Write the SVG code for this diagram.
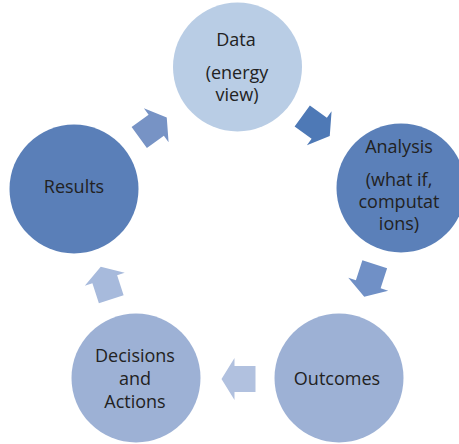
<svg xmlns="http://www.w3.org/2000/svg" width="459" height="444" viewBox="0 0 459 444">
<style>
text{font-family:"Open Sans","Liberation Sans",sans-serif;font-size:18px;fill:#222;text-anchor:middle}
</style>
<defs>
<path id="arr" d="M17,0 L4,21 L4,13 L-17,13 L-17,-13 L4,-13 L4,-21 Z"/>
</defs>
<rect width="459" height="444" fill="#fff"/>
<g id="connectors">
<use href="#arr" fill="#4E79B6" transform="translate(316,126) rotate(36)"/>
<use href="#arr" fill="#7090C6" transform="translate(369.5,280.5) rotate(108)"/>
<use href="#arr" fill="#B1C1DF" transform="translate(238.5,379) rotate(180)"/>
<use href="#arr" fill="#A7BADC" transform="translate(106,283) rotate(252)"/>
<use href="#arr" fill="#7793C5" transform="translate(153,127.5) rotate(324)"/>
</g>
<g id="data">
<circle cx="237.5" cy="67" r="64.5" fill="#B9CDE5"/>
<text x="236" y="46">Data</text>
<text x="237" y="79">(energy</text>
<text x="237" y="101">view)</text>
</g>
<g id="analysis">
<circle cx="401" cy="188" r="64.5" fill="#5B80B9"/>
<text x="399" y="153">Analysis</text>
<text x="399" y="186">(what if,</text>
<text x="399" y="208">computat</text>
<text x="399" y="230">ions)</text>
</g>
<g id="outcomes">
<circle cx="339" cy="378" r="64.5" fill="#9DB1D5"/>
<text x="337" y="385">Outcomes</text>
</g>
<g id="decisions">
<circle cx="136" cy="378" r="64.5" fill="#9DB1D5"/>
<text x="135" y="362">Decisions</text>
<text x="135" y="385">and</text>
<text x="135" y="408">Actions</text>
</g>
<g id="results">
<circle cx="74" cy="189" r="64.5" fill="#5A7FB8"/>
<text x="74" y="193">Results</text>
</g>
</svg>
